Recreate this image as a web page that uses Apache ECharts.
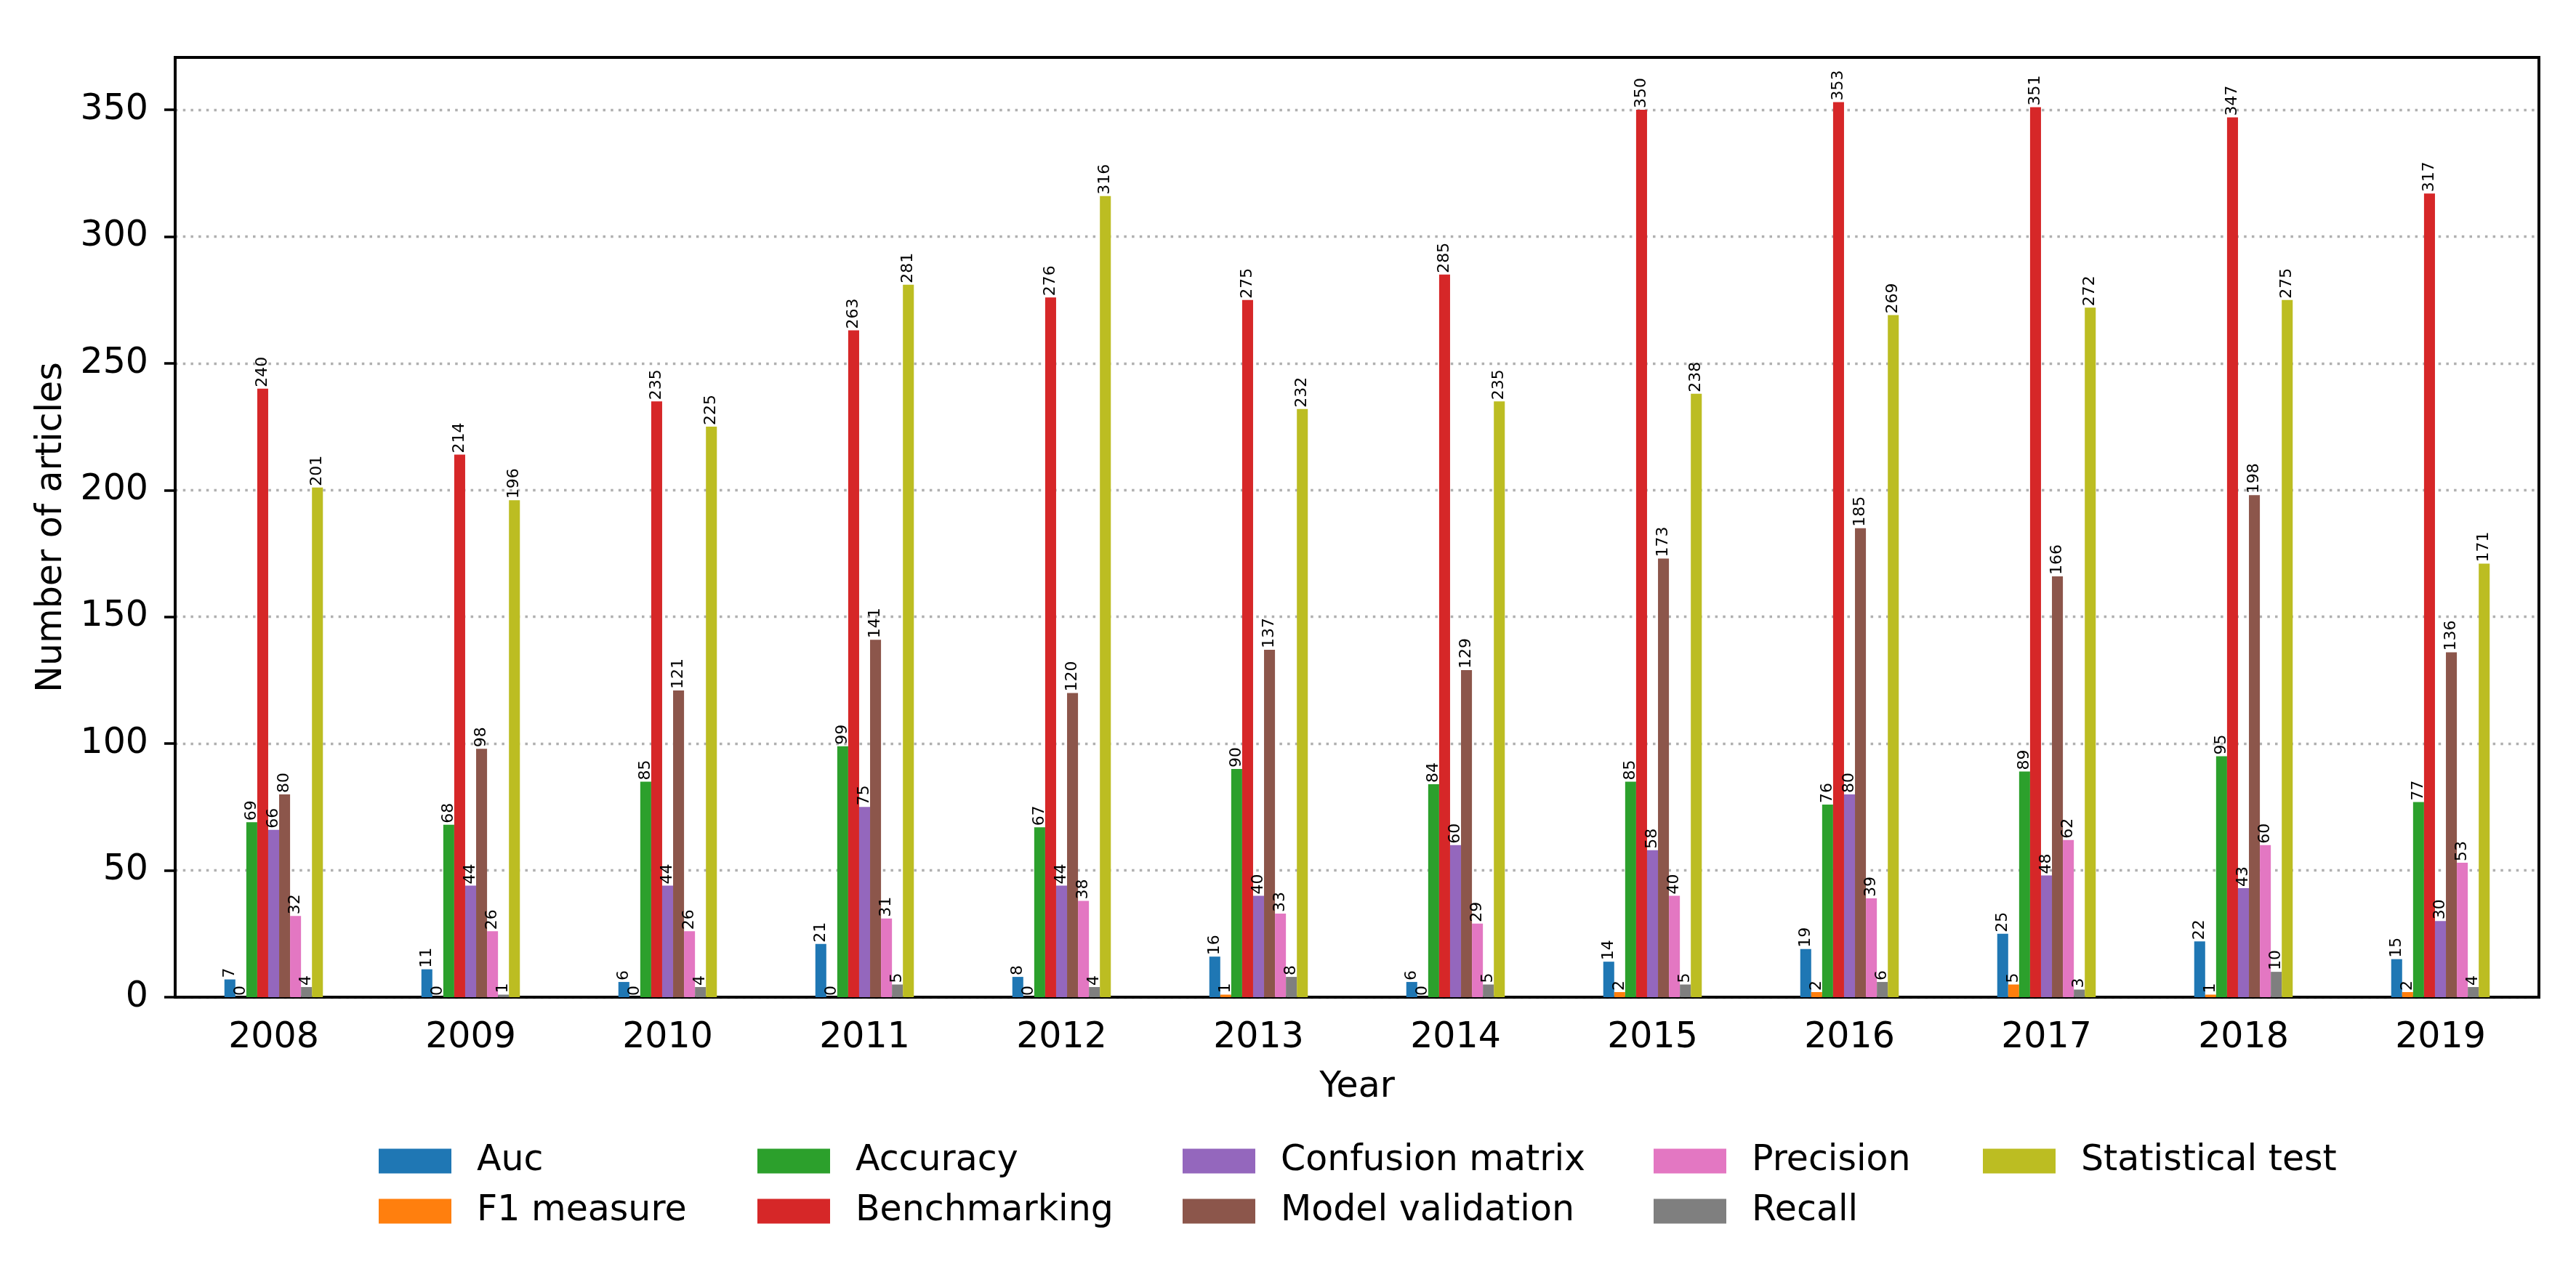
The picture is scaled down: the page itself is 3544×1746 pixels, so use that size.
<!DOCTYPE html>
<html>
<head>
<meta charset="utf-8">
<script src="https://cdn.jsdelivr.net/npm/echarts@6/dist/echarts.min.js"></script>
<style>
html,body{margin:0;padding:0;background:#fff;}
#c{width:3544px;height:1746px;}
</style>
</head>
<body>
<div id="c"></div>
<script>
const years = ['2008','2009','2010','2011','2012','2013','2014','2015','2016','2017','2018','2019'];
const seriesNames = ['Auc','F1 measure','Accuracy','Benchmarking','Confusion matrix','Model validation','Precision','Recall','Statistical test'];
const colors = ['#1f77b4','#ff7f0e','#2ca02c','#d62728','#9467bd','#8c564b','#e377c2','#7f7f7f','#bcbd22'];
const auc = [7,11,6,21,8,16,6,14,19,25,22,15];
const f1 = [0,0,0,0,0,1,0,2,2,5,1,2];
const accuracy = [69,68,85,99,67,90,84,85,76,89,95,77];
const benchmarking = [240,214,235,263,276,275,285,350,353,351,347,317];
const confusion = [66,44,44,75,44,40,60,58,80,48,43,30];
const modelValidation = [80,98,121,141,120,137,129,173,185,166,198,136];
const precision = [32,26,26,31,38,33,29,40,39,62,60,53];
const recall = [4,1,4,5,4,8,5,5,6,3,10,4];
const statTest = [201,196,225,281,316,232,235,238,269,272,275,171];
const yTicks = [0,50,100,150,200,250,300,350];
const values = [auc,f1,accuracy,benchmarking,confusion,modelValidation,precision,recall,statTest];

const FONT = 'DejaVu Sans';
const chart = echarts.init(document.getElementById('c'), null, {renderer:'canvas'});

const series = seriesNames.map((n,i)=>({
  name:n, type:'bar', data:values[i],
  barGap:'0%', barCategoryGap:'50%',
  itemStyle:{color:colors[i]},
  label:{show:true, position:'top', rotate:90, align:'left', verticalAlign:'middle',
    distance:2, fontSize:22, fontFamily:FONT, color:'#000'}
}));

const legendCols = [[0,1],[2,3],[4,5],[6,7],[8]];
const legendLefts = [521,1042,1627,2275,2728];
const legends = legendCols.map((idx,k)=>({
  data: idx.map(i=>seriesNames[i]),
  orient:'vertical', left:legendLefts[k], top:1573, padding:0,
  icon:'rect', itemWidth:100, itemHeight:34, itemGap:20,
  selectedMode:false,
  textStyle:{fontSize:49, fontFamily:FONT, color:'#000', lineHeight:34, padding:[0,0,0,30]}
}));

chart.setOption({
  animation:false,
  backgroundColor:'#fff',
  color:colors,
  textStyle:{fontFamily:FONT},
  grid:{left:241, right:51, top:79, bottom:374, show:true, borderColor:'#000', borderWidth:4, backgroundColor:'transparent'},
  legend:legends,
  xAxis:{
    type:'category', data:years, boundaryGap:true,
    name:'Year', nameLocation:'middle', nameGap:100,
    nameTextStyle:{fontSize:49, fontFamily:FONT, color:'#000'},
    axisLine:{lineStyle:{color:'#000', width:4}},
    axisTick:{alignWithLabel:true, length:15, lineStyle:{color:'#000', width:3.5}},
    axisLabel:{fontSize:49, fontFamily:FONT, color:'#000', margin:32},
    splitLine:{show:false}
  },
  yAxis:{
    type:'value', min:0, max:370.65, interval:50,
    name:'Number of articles', nameLocation:'middle', nameGap:145, nameRotate:90,
    nameTextStyle:{fontSize:49, fontFamily:FONT, color:'#000'},
    axisLine:{show:true, lineStyle:{color:'#000', width:4}},
    axisTick:{show:true, length:15, lineStyle:{color:'#000', width:3.5}, customValues:yTicks},
    axisLabel:{fontSize:49, fontFamily:FONT, color:'#000', margin:37, customValues:yTicks,
      formatter:v=> (yTicks.indexOf(v)>=0 ? String(v) : '')},
    splitLine:{show:true, lineStyle:{color:'#b0b0b0', width:3.3, type:[3.5,7.2]}}
  },
  series:series
});
</script>
</body>
</html>
